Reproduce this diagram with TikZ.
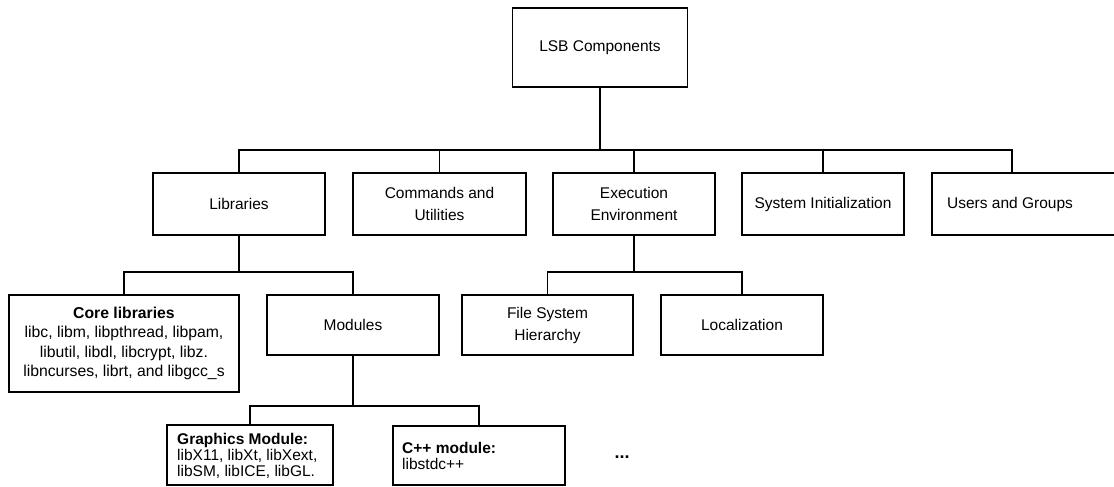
\documentclass[tikz,border=0pt]{standalone}
\usepackage{fontspec}
\setmainfont{Liberation Sans}
\begin{document}
\begin{tikzpicture}[x=1pt,y=-1pt,
  box/.style={draw=black,line width=1.5pt,fill=white,inner sep=0pt,align=center,
     font=\fontsize{15.5}{22}\selectfont},
  conn/.style={draw=black,line width=1.5pt},
  main/.style={draw=black,line width=2.6pt},
  small/.style={inner sep=0pt,align=left,anchor=north west,font=\fontsize{15.5}{16}\selectfont}]
\useasboundingbox (0,0) rectangle (1114,487);
% level 0
\node[box,minimum width=175,minimum height=79] (top) at (600,47.5) {LSB Components};
% level 1
\node[box,minimum width=172,minimum height=62] (lib) at (239,204) {Libraries};
\node[box,minimum width=173,minimum height=62] (cmd) at (439.5,204) {Commands and\\Utilities};
\node[box,minimum width=162,minimum height=62] (exec) at (634,204) {Execution\\Environment};
\node[box,minimum width=162,minimum height=62] (sys) at (823,204) {System Initialization};
\node[box,minimum width=192,minimum height=62,anchor=west] (users) at (931,204) {};
\node[inner sep=0pt,font=\fontsize{15.5}{22}\selectfont] (userst) at (1010,204) {Users and Groups};
\coordinate (uc) at (1012,173);
\coordinate (bus1) at (600,150);
% level 2
\node[box,minimum width=230,minimum height=97,font=\fontsize{15.75}{19.5}\selectfont] (core) at (124,343.5)
  {\textbf{Core libraries}\\libc, libm, libpthread, libpam,\\libutil, libdl, libcrypt, libz.\\libncurses, librt, and libgcc\_s};
\node[box,minimum width=172,minimum height=60] (mod) at (353,325) {Modules};
\node[box,minimum width=171,minimum height=60] (fs) at (547.5,325) {File System\\Hierarchy};
\node[box,minimum width=162,minimum height=60] (loc) at (742,325) {Localization};
\coordinate (bus2) at (239,272);
\coordinate (e2) at (634,272);
% level 3
\node[box,minimum width=166,minimum height=60] (gfx) at (250,455) {};
\node[small] (gfxt) at (177,433) {\textbf{Graphics Module:}\\libX11, libXt, libXext,\\libSM, libICE, libGL.};
\node[box,minimum width=172,minimum height=59] (cpp) at (479,455.5) {};
\node[small] (cppt) at (402,442) {\textbf{C++ module:}\\libstdc++};
\node[inner sep=0pt,font=\fontsize{18}{20}\selectfont\bfseries] (dots) at (622,457) {...};
\coordinate (m2) at (353,406);
% connectors
\draw[main] (top.south) -- (bus1);
\draw[conn] (lib.north) |- (bus1) -| (uc);
\draw[conn] (cmd.north) -- (cmd.north |- bus1);
\draw[conn] (exec.north) -- (exec.north |- bus1);
\draw[conn] (sys.north) -- (sys.north |- bus1);
\draw[conn] (lib.south) -- (bus2);
\draw[conn] (core.north) |- (bus2) -| (mod.north);
\draw[conn] (exec.south) -- (e2);
\draw[conn] (fs.north) |- (e2) -| (loc.north);
\draw[conn] (mod.south) -- (m2);
\draw[conn] (gfx.north) |- (m2) -| (cpp.north);
\end{tikzpicture}
\end{document}
